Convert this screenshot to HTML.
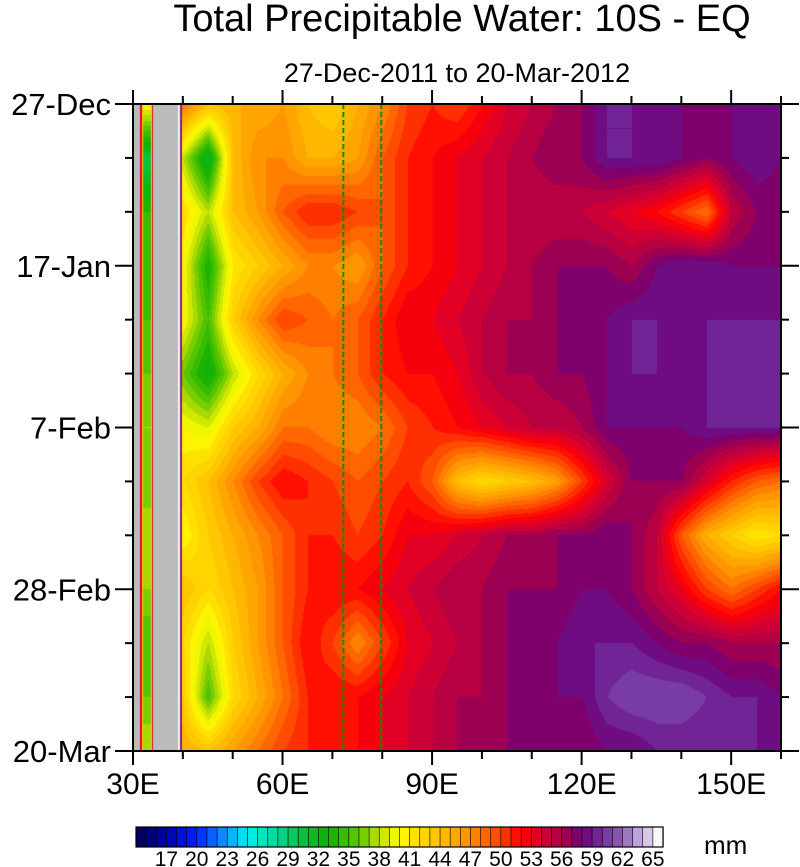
<!DOCTYPE html>
<html><head><meta charset="utf-8">
<style>
html,body{margin:0;padding:0;background:#fff;}
body{width:800px;height:867px;position:relative;overflow:hidden;font-family:"Liberation Sans",sans-serif;}
#plot{position:absolute;left:0;top:0;}
canvas{position:absolute;}
</style></head>
<body>
<canvas id="field" width="649" height="647" style="left:133px;top:104px;"></canvas>
<svg id="plot" width="800" height="867"></svg>
<script>
// ---- data ----
const lons = [40,45,50,55,60,65,70,75,80,85,90,95,100,105,110,115,120,125,130,135,140,145,150,155,160];
const days = [0,7,14,21,28,35,42,49,56,63,70,77,84];
const row0  = [48,44,45,45,46,44,43,45,47,50,51,50,52,54,55,56,57,59,59,58,58,58,58,58,58];
const row7  = [38,31,44,47,47,45,45,46,49,51,52,53,54,55,56,57,57,59,59,59,58,57,58,59,58];
const row14 = [42,38,44,46,49,51,51,50,49,51,52,53,54,55,55,55,55,54,53,52,50,48,55,57,57];
const row21 = [40,33,41,43,45,47,47,46,49,51,52,53,54,55,56,57,57,57,56,58,59,59,58,58,58];
const row28 = [40,35,43,47,50,49,48,49,51,53,53,54,55,56,56,57,57,58,59,59,58,59,59,59,59];
const row35 = [36,32,38,42,45,47,48,49,51,52,52,53,55,56,56,57,57,58,59,59,59,59,59,59,59];
const row42 = [40,39,43,45,48,48,47,47,48,50,51,52,53,54,55,55,56,58,58,58,58,59,59,59,59];
const row49 = [42,44,47,50,52,51,50,49,50,51,49,44,42,43,44,46,50,54,57,57,57,54,51,49,48];
const row56 = [40,43,45,47,49,51,51,50,51,53,53,54,55,56,56,57,57,58,57,55,49,45,43,41,42];
const row63 = [44,42,44,46,49,51,52,52,53,54,55,56,56,57,57,57,58,58,57,55,53,50,48,50,52];
const row70 = [42,38,43,46,49,52,50,47,50,53,54,55,56,57,58,58,59,59,59,58,57,57,56,56,56];
const row77 = [43,35,42,45,48,51,52,52,53,54,55,56,56,57,57,58,58,60,61,61,61,60,59,59,58];
const row84 = [45,44,46,48,50,51,51,52,53,54,55,56,56,57,57,57,57,58,58,59,59,59,59,59,58];
const values = [row0,row7,row14,row21,row28,row35,row42,row49,row56,row63,row70,row77,row84];
const lakeVals = [40,30,34,34,35,36,37,36,38,37,35,36,38];
const lonTicks = [30,60,90,120,150];
const lonTickLabels = ["30E","60E","90E","120E","150E"];
const dayTicks = [0,21,42,63,84];
const dayTickLabels = ["27-Dec","17-Jan","7-Feb","28-Feb","20-Mar"];
const cbLabels = [17,20,23,26,29,32,35,38,41,44,47,50,53,56,59,62,65];

// ---- scales ----
const X0=133,X1=781,Y0=104,Y1=751;
const xs = lon => X0 + (lon-30)/(160-30)*(X1-X0);
const ys = d => Y0 + d/84*(Y1-Y0);

const stops=[[14,[0,0,80]],[17,[0,0,176]],[20,[0,32,255]],[23,[10,160,255]],[25,[0,240,240]],[28,[0,216,144]],[31,[16,184,48]],[33,[16,176,0]],[36,[96,200,0]],[38,[192,224,0]],[40,[255,255,0]],[41,[255,232,0]],[44,[255,192,0]],[47,[255,140,0]],[50,[255,64,0]],[52,[255,0,0]],[54,[216,0,48]],[56,[170,0,70]],[58,[112,0,120]],[60,[112,48,160]],[62,[144,96,176]],[63,[176,144,208]],[64.5,[216,200,232]],[65,[248,248,248]]];
function colorOf(v){
  v=Math.floor(v)+0.5; if(v<14)v=14; if(v>65)v=65;
  for(let i=0;i<stops.length-1;i++){const a=stops[i],b=stops[i+1];
    if(v>=a[0]&&v<=b[0]){const t=(v-a[0])/(b[0]-a[0]);return a[1].map((c,k)=>Math.round(c+(b[1][k]-c)*t));}}
  return stops[stops.length-1][1];
}
function sampleGrid(lon,d){
  let fi=(lon-lons[0])/5; fi=Math.max(0,Math.min(lons.length-1.0001,fi));
  let fj=d/7; fj=Math.max(0,Math.min(days.length-1.0001,fj));
  const i=Math.floor(fi),j=Math.floor(fj),tx=fi-i,ty=fj-j;
  const a=values[j][i],b=values[j][i+1],c=values[j+1][i],e=values[j+1][i+1];
  return (a*(1-tx)+b*tx)*(1-ty)+(c*(1-tx)+e*tx)*ty;
}
// ---- field ----
const cv=document.getElementById('field'),ctx=cv.getContext('2d');
const W=cv.width,H=cv.height,img=ctx.createImageData(W,H);
for(let py=0;py<H;py++){
  const d=py/(H-1)*84;
  for(let px=0;px<W;px++){
    const lon=30+px/(W-1)*130;
    let col;
    if(lon<31.4||(lon>34.0&&lon<39.0)) col=[187,187,187];
    else if(lon<=34.0){
      const jj=Math.min(days.length-1.0001,d/7),j=Math.floor(jj),t=jj-j;
      let v=lakeVals[j]*(1-t)+lakeVals[j+1]*t;
      const edge=Math.min(lon-31.4,34.0-lon);
      if(edge<0.25)v=53; else if(edge<0.55)v=42;
      col=colorOf(v);
    } else if(lon<40){
      const t=(lon-39)/1;
      const v=sampleGrid(40,d); col=t<0.3?[245,245,250]:colorOf(t<0.55?59:(t<0.8?54:v));
    } else col=colorOf(sampleGrid(lon,d));
    const k=(py*W+px)*4; img.data[k]=col[0];img.data[k+1]=col[1];img.data[k+2]=col[2];img.data[k+3]=255;
  }
}
ctx.putImageData(img,0,0);

// ---- svg ----
const svg=document.getElementById('plot'),NS='http://www.w3.org/2000/svg';
function mk(tag,attrs,parent){const e=document.createElementNS(NS,tag);for(const k in attrs)e.setAttribute(k,attrs[k]);(parent||svg).appendChild(e);return e;}
let t=mk('text',{x:462,y:31,'text-anchor':'middle','font-size':38,fill:'#000'});t.textContent='Total Precipitable Water: 10S - EQ';


t=mk('text',{x:457,y:82,'text-anchor':'middle','font-size':27,fill:'#000'});t.textContent='27-Dec-2011 to 20-Mar-2012';


// dashed lines
[72.2,79.8].forEach(l=>{const e=mk('line',{x1:xs(l),x2:xs(l),y1:Y0,y2:Y1,stroke:'#108a10','stroke-width':2,'stroke-dasharray':'5,3'});

});
// frame
const fr=mk('rect',{x:X0,y:Y0,width:X1-X0,height:Y1-Y0,fill:'none',stroke:'#000','stroke-width':2});


// x ticks
for(let l=30;l<=160;l+=10){
  const major=lonTicks.includes(l),x=xs(l),len=major?14:8;
  mk('line',{x1:x,x2:x,y1:Y0,y2:Y0-len,stroke:'#000','stroke-width':2});
  mk('line',{x1:x,x2:x,y1:Y1,y2:Y1+len,stroke:'#000','stroke-width':2});
}
lonTicks.forEach((l,i)=>{const e=mk('text',{x:xs(l),y:Y1+43,'text-anchor':'middle','font-size':30});e.textContent=lonTickLabels[i];

});
// y ticks
for(let d=0;d<=84;d+=7){
  const major=dayTicks.includes(d),y=ys(d),len=major?18:8;
  mk('line',{x1:X0,x2:X0-len,y1:y,y2:y,stroke:'#000','stroke-width':2});
  mk('line',{x1:X1,x2:X1+len,y1:y,y2:y,stroke:'#000','stroke-width':2});
}
dayTicks.forEach((d,i)=>{const e=mk('text',{x:111,y:ys(d)+11,'text-anchor':'end','font-size':31});e.textContent=dayTickLabels[i];

});
// colorbar
const CB0=136,CBW=527/52,CBY=827,CBH=20;
for(let i=0;i<52;i++){
  const v=14+i;
  const r=mk('rect',{x:CB0+i*CBW,y:CBY,width:CBW+0.3,height:CBH,fill:'rgb('+colorOf(v).join(',')+')',stroke:'#000','stroke-width':0.6});
  
  
}
mk('rect',{x:CB0,y:CBY,width:527,height:CBH,fill:'none',stroke:'#000','stroke-width':1.2});
cbLabels.forEach(v=>{const e=mk('text',{x:CB0+(v-14)*CBW,y:866,'text-anchor':'middle','font-size':21});e.textContent=v;

});
t=mk('text',{x:704,y:854,'text-anchor':'start','font-size':26});t.textContent='mm';


</script>
</body></html>
